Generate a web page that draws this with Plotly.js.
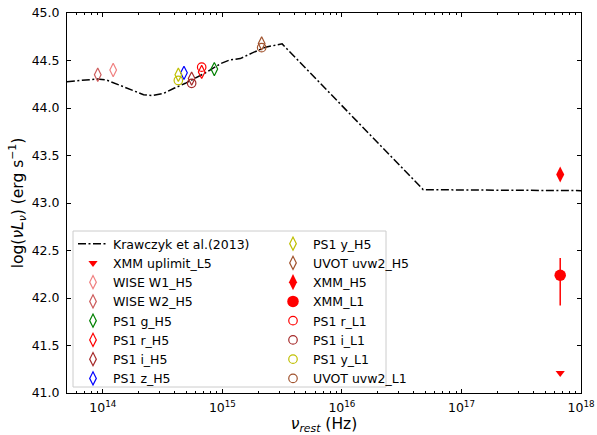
<!DOCTYPE html>
<html>
<head>
<meta charset="utf-8">
<script src="https://cdn.plot.ly/plotly-3.0.1.min.js"></script>
<style>html,body{margin:0;padding:0;background:#fff;}#chart{width:597px;height:435px;}</style>
</head>
<body>
<div id="chart"></div>
<script>
// Krawczyk et al. (2013) mean SED
const modelFreq = [5.0e13, 8.9e13, 1.07e14, 1.32e14, 1.70e14, 2.19e14, 2.57e14, 3.24e14, 3.98e14, 4.90e14, 7.08e14, 9.77e14, 1.15e15, 1.41e15, 1.78e15, 2.29e15, 3.16e15, 4.79e16, 1.0e18];
const modelLum  = [44.277, 44.305, 44.295, 44.25, 44.19, 44.14, 44.13, 44.155, 44.21, 44.26, 44.365, 44.47, 44.505, 44.52, 44.58, 44.64, 44.675, 43.14, 43.13];

// Photometry (rest-frame frequency, log nuL_nu)
const xmmUpFreq = [6.7e17];  const xmmUpLum = [41.21];
const w1H5Freq  = [1.22e14]; const w1H5Lum  = [44.40];
const w2H5Freq  = [9.06e13]; const w2H5Lum  = [44.35];
const gH5Freq   = [8.56e14]; const gH5Lum   = [44.41];
const rH5Freq   = [6.71e14]; const rH5Lum   = [44.38];
const iH5Freq   = [5.53e14]; const iH5Lum   = [44.31];
const zH5Freq   = [4.77e14]; const zH5Lum   = [44.37];
const yH5Freq   = [4.28e14]; const yH5Lum   = [44.35];
const uvH5Freq  = [2.13e15]; const uvH5Lum  = [44.68];
const xmmH5Freq = [6.7e17];  const xmmH5Lum = [43.30];
const xmmL1Freq = [6.7e17];  const xmmL1Lum = [42.24];
const xmmL1ErrUp = [0.18];   const xmmL1ErrDn = [0.32];
const rL1Freq   = [6.71e14]; const rL1Lum   = [44.43];
const iL1Freq   = [5.53e14]; const iL1Lum   = [44.26];
const yL1Freq   = [4.28e14]; const yL1Lum   = [44.29];
const uvL1Freq  = [2.13e15]; const uvL1Lum  = [44.635];

const tickVals = [1e14, 1e15, 1e16, 1e17, 1e18];
const tickText = ['10<sup>14</sup>', '10<sup>15</sup>', '10<sup>16</sup>', '10<sup>17</sup>', '10<sup>18</sup>'];

function pt(name, x, y, symbol, color, size, legend, extra) {
  const open = symbol.indexOf('open') >= 0;
  const t = {
    type: 'scatter', mode: 'markers', name: name, x: x, y: y, legend: legend,
    marker: {symbol: symbol, size: size, color: color, line: {color: color, width: open ? 1.2 : 0}}
  };
  return Object.assign(t, extra || {});
}

const traces = [
  {type: 'scatter', mode: 'lines', name: 'Krawczyk et al.(2013)', x: modelFreq, y: modelLum, legend: 'legend',
   line: {color: 'black', width: 1.5, dash: '8px,2.5px,2px,2.5px'}},
  pt('XMM uplimit_L5', xmmUpFreq, xmmUpLum, 'triangle-down', 'red', 8, 'legend'),
  pt('WISE W1_H5', w1H5Freq, w1H5Lum, 'diamond-tall-open', '#f08080', 9.5, 'legend'),
  pt('WISE W2_H5', w2H5Freq, w2H5Lum, 'diamond-tall-open', '#cd5c5c', 9.5, 'legend'),
  pt('PS1 g_H5', gH5Freq, gH5Lum, 'diamond-tall-open', 'green', 9.5, 'legend'),
  pt('PS1 r_H5', rH5Freq, rH5Lum, 'diamond-tall-open', 'red', 9.5, 'legend'),
  pt('PS1 i_H5', iH5Freq, iH5Lum, 'diamond-tall-open', '#a52a2a', 9.5, 'legend'),
  pt('PS1 z_H5', zH5Freq, zH5Lum, 'diamond-tall-open', 'blue', 9.5, 'legend'),
  pt('PS1 y_H5', yH5Freq, yH5Lum, 'diamond-tall-open', '#bfbf00', 9.5, 'legend2'),
  pt('UVOT uvw2_H5', uvH5Freq, uvH5Lum, 'diamond-tall-open', '#a0522d', 9.5, 'legend2'),
  pt('XMM_H5', xmmH5Freq, xmmH5Lum, 'diamond-tall', 'red', 11.5, 'legend2'),
  pt('XMM_L1', xmmL1Freq, xmmL1Lum, 'circle', 'red', 11.5, 'legend2',
     {error_y: {type: 'data', symmetric: false, array: xmmL1ErrUp, arrayminus: xmmL1ErrDn, color: 'red', thickness: 1.5, width: 0}}),
  pt('PS1 r_L1', rL1Freq, rL1Lum, 'circle-open', 'red', 8.5, 'legend2'),
  pt('PS1 i_L1', iL1Freq, iL1Lum, 'circle-open', '#a52a2a', 8.5, 'legend2'),
  pt('PS1 y_L1', yL1Freq, yL1Lum, 'circle-open', '#bfbf00', 8.5, 'legend2'),
  pt('UVOT uvw2_L1', uvL1Freq, uvL1Lum, 'circle-open', '#a0522d', 8.5, 'legend2')
];

const W = 597, H = 435, ml = 67, mr = 16, mt = 13, mb = 42;
const pw = W - ml - mr, ph = H - mt - mb;
const px = v => (v - ml) / pw;
const py = v => (H - mb - v) / ph;

const legFont = {family: 'DejaVu Sans', size: 12.5, color: '#000'};
const layout = {
  width: W, height: H,
  margin: {l: ml, r: mr, t: mt, b: mb, pad: 0},
  paper_bgcolor: '#fff', plot_bgcolor: '#fff',
  font: {family: 'DejaVu Sans', size: 12, color: '#000'},
  showlegend: true,
  xaxis: {
    type: 'log', range: [13.7, 18], tickvals: tickVals, ticktext: tickText,
    ticks: 'inside', ticklen: 4, tickwidth: 1, tickcolor: '#000',
    minor: {ticks: 'inside', ticklen: 2, tickcolor: '#000', showgrid: false, dtick: 'D1'},
    showline: true, linecolor: '#000', linewidth: 1, mirror: 'ticks',
    showgrid: false, zeroline: false, ticklabelstandoff: 3,
    tickfont: {family: 'DejaVu Sans', size: 12.5},
    title: {text: '<i>ν<sub>rest</sub></i> (Hz)', font: {family: 'DejaVu Sans', size: 15.5}, standoff: 2}
  },
  yaxis: {
    range: [41, 45], dtick: 0.5, tickformat: '.1f',
    ticks: 'inside', ticklen: 4, tickwidth: 1, tickcolor: '#000',
    showline: true, linecolor: '#000', linewidth: 1, mirror: 'ticks',
    showgrid: false, zeroline: false, ticklabelstandoff: 4,
    tickfont: {family: 'DejaVu Sans', size: 12.5},
    title: {text: 'log(<i>νL<sub>ν</sub></i>) (erg s<sup>−1</sup>)', font: {family: 'DejaVu Sans', size: 15.5}, standoff: 4}
  },
  legend: {x: px(73), y: py(229), xanchor: 'left', yanchor: 'top', bgcolor: 'rgba(0,0,0,0)', borderwidth: 0, font: legFont, tracegroupgap: 0},
  legend2: {x: px(273), y: py(229), xanchor: 'left', yanchor: 'top', bgcolor: 'rgba(0,0,0,0)', borderwidth: 0, font: legFont, tracegroupgap: 0},
  shapes: [{type: 'rect', xref: 'paper', yref: 'paper', x0: px(73), x1: px(386), y0: py(387), y1: py(231),
            line: {color: '#cccccc', width: 1}, fillcolor: 'rgba(255,255,255,0.8)', layer: 'above'}]
};

Plotly.newPlot('chart', traces, layout, {displayModeBar: false, staticPlot: true});
</script>
</body>
</html>
